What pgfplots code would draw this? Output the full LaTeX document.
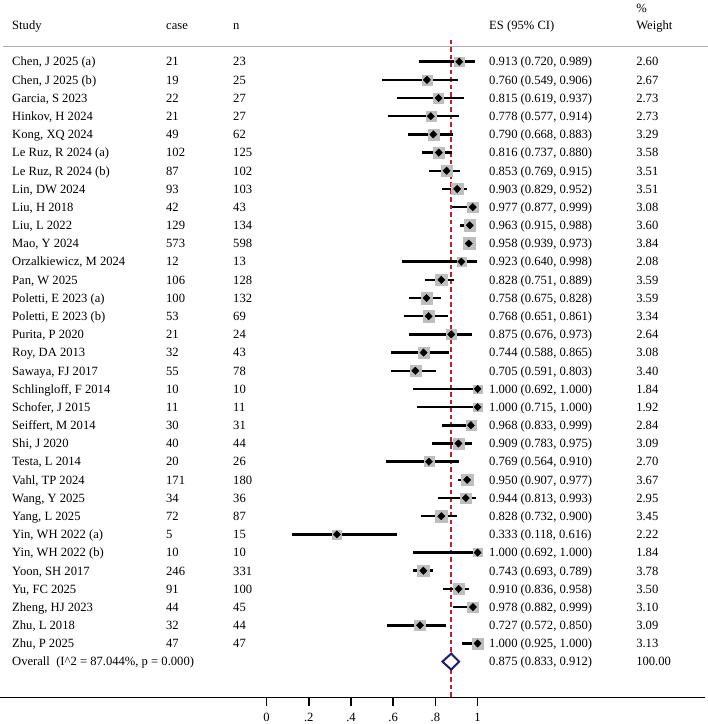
\documentclass[border=0pt]{standalone}
\usepackage{pgfplots}
\pgfplotsset{compat=1.18}
\usepackage{pgfplotstable}
\usepackage{fontspec}
\setmainfont{Liberation Serif}

\newcommand{\fs}{\fontsize{12.6bp}{14bp}\selectfont}

\definecolor{boxgray}{RGB}{190,190,190}
\definecolor{refred}{RGB}{185,35,45}
\definecolor{pooled}{RGB}{28,28,120}
\definecolor{rulegray}{RGB}{175,175,175}

% one row per study: proportion, 95% CI and random-effects weight
\pgfplotstableread[col sep=semicolon]{
row;study;case;n;es;lo;hi;w
1;Chen, J 2025 (a);21;23;0.913;0.720;0.989;2.60
2;Chen, J 2025 (b);19;25;0.760;0.549;0.906;2.67
3;Garcia, S 2023;22;27;0.815;0.619;0.937;2.73
4;Hinkov, H 2024;21;27;0.778;0.577;0.914;2.73
5;Kong, XQ 2024;49;62;0.790;0.668;0.883;3.29
6;Le Ruz, R 2024 (a);102;125;0.816;0.737;0.880;3.58
7;Le Ruz, R 2024 (b);87;102;0.853;0.769;0.915;3.51
8;Lin, DW 2024;93;103;0.903;0.829;0.952;3.51
9;Liu, H 2018;42;43;0.977;0.877;0.999;3.08
10;Liu, L 2022;129;134;0.963;0.915;0.988;3.60
11;Mao, Y 2024;573;598;0.958;0.939;0.973;3.84
12;Orzalkiewicz, M 2024;12;13;0.923;0.640;0.998;2.08
13;Pan, W 2025;106;128;0.828;0.751;0.889;3.59
14;Poletti, E 2023 (a);100;132;0.758;0.675;0.828;3.59
15;Poletti, E 2023 (b);53;69;0.768;0.651;0.861;3.34
16;Purita, P 2020;21;24;0.875;0.676;0.973;2.64
17;Roy, DA 2013;32;43;0.744;0.588;0.865;3.08
18;Sawaya, FJ 2017;55;78;0.705;0.591;0.803;3.40
19;Schlingloff, F 2014;10;10;1.000;0.692;1.000;1.84
20;Schofer, J 2015;11;11;1.000;0.715;1.000;1.92
21;Seiffert, M 2014;30;31;0.968;0.833;0.999;2.84
22;Shi, J 2020;40;44;0.909;0.783;0.975;3.09
23;Testa, L 2014;20;26;0.769;0.564;0.910;2.70
24;Vahl, TP 2024;171;180;0.950;0.907;0.977;3.67
25;Wang, Y 2025;34;36;0.944;0.813;0.993;2.95
26;Yang, L 2025;72;87;0.828;0.732;0.900;3.45
27;Yin, WH 2022 (a);5;15;0.333;0.118;0.616;2.22
28;Yin, WH 2022 (b);10;10;1.000;0.692;1.000;1.84
29;Yoon, SH 2017;246;331;0.743;0.693;0.789;3.78
30;Yu, FC 2025;91;100;0.910;0.836;0.958;3.50
31;Zheng, HJ 2023;44;45;0.978;0.882;0.999;3.10
32;Zhu, L 2018;32;44;0.727;0.572;0.850;3.09
33;Zhu, P 2025;47;47;1.000;0.925;1.000;3.13
}\studies

% pooled estimate
\pgfplotstableread[col sep=semicolon]{
row;study;es;lo;hi;w
34;Overall\ \ (I\textasciicircum 2 = 87.044\%, p = 0.000);0.875;0.833;0.912;100.00
}\pooledrow

% scale tick labels
\pgfplotstableread[col sep=semicolon]{
t;lab
0;0
0.2;.2
0.4;.4
0.6;.6
0.8;.8
1;1
}\scaleticks

\newcommand{\ci}[1]{\pgfmathprintnumber[fixed, fixed zerofill, precision=3, assume math mode=true]{#1}}

\begin{document}
\begin{tikzpicture}
\begin{axis}[
  name=ax,
  scale only axis,
  width=708bp, height=697.3bp,
  xmin=-1.2635, xmax=2.0919,
  ymin=-35.962, ymax=2.394,
  hide axis,
  clip=false,
  unbounded coords=jump,
  textcol/.style={only marks, mark=none, nodes near coords,
    point meta=explicit symbolic,
    every node near coord/.append style={anchor=base west, yshift=-4.3bp,
      inner sep=0pt, font=\fs, text=black}},
  cicol/.style={textcol,
    visualization depends on={\thisrow{lo} \as \cilo},
    visualization depends on={\thisrow{hi} \as \cihi},
    nodes near coords={\pgfplotspointmeta\ (\ci{\cilo}, \ci{\cihi})}},
]

% rule under the column headings
\addplot[color=rulegray, line width=1.2bp] coordinates {(-1.25,-0.175) (2.0919,-0.175)};

% pooled-estimate reference line
\addplot[color=refred, line width=1.5bp, dash pattern=on 4.5bp off 3bp]
  coordinates {(0.875,0.194) (0.875,-35.962)};

% weight boxes (area proportional to weight)
\addplot[scatter, only marks, mark=square*,
  visualization depends on={\thisrow{w} \as \wt},
  scatter/@pre marker code/.code={%
    \pgfmathsetmacro{\boxr}{3.06*sqrt(\wt)}%
    \scope[mark size=\boxr pt, draw=boxgray, fill=boxgray]},
  scatter/@post marker code/.code={\endscope}]
  table[x=es, y expr=-\thisrow{row}]{\studies};

% confidence intervals
\addplot[only marks, mark=none,
  error bars/.cd, x dir=both, x explicit, error mark=none,
  error bar style={line width=2.5bp, black}]
  table[x=es, y expr=-\thisrow{row},
        x error plus expr=\thisrow{hi}-\thisrow{es},
        x error minus expr=\thisrow{es}-\thisrow{lo}]{\studies};

% point estimates
\addplot[only marks, mark=diamond*, mark size=3.7bp,
  mark options={xscale=1.3, black, fill=black}]
  table[x=es, y expr=-\thisrow{row}]{\studies};

% pooled diamond
\addplot[color=pooled, line width=2bp, fill=white]
  coordinates {(0.833,-34) (0.875,-33.56) (0.912,-34) (0.875,-34.44) (0.833,-34)} -- cycle;

% text columns
\addplot[textcol] table[x expr=-1.2066, y expr=-\thisrow{row}, meta=study]{\studies};
\addplot[textcol] table[x expr=-0.4768, y expr=-\thisrow{row}, meta=case]{\studies};
\addplot[textcol] table[x expr=-0.1592, y expr=-\thisrow{row}, meta=n]{\studies};
\addplot[cicol] table[x expr=1.054, y expr=-\thisrow{row}, meta=es]{\studies};
\addplot[textcol] table[x expr=1.751, y expr=-\thisrow{row}, meta=w]{\studies};

\addplot[textcol] table[x expr=-1.2066, y expr=-\thisrow{row}, meta=study]{\pooledrow};
\addplot[cicol] table[x expr=1.054, y expr=-\thisrow{row}, meta=es]{\pooledrow};
\addplot[textcol] table[x expr=1.751, y expr=-\thisrow{row}, meta=w]{\pooledrow};

% scale: baseline, ticks and tick labels
\addplot[color=black, line width=1.6bp] coordinates {(-1.2635,-35.962) (2.0777,-35.962)};
\addplot[color=black, line width=1.6bp, mark=none] coordinates {
  (0,-35.962) (0,-36.42) (nan,nan)
  (0.2,-35.962) (0.2,-36.42) (nan,nan)
  (0.4,-35.962) (0.4,-36.42) (nan,nan)
  (0.6,-35.962) (0.6,-36.42) (nan,nan)
  (0.8,-35.962) (0.8,-36.42) (nan,nan)
  (1,-35.962) (1,-36.42)
};
\addplot[only marks, mark=none, nodes near coords, point meta=explicit symbolic,
  every node near coord/.append style={anchor=base, yshift=-4.3bp,
    inner sep=0pt, font=\fs, text=black}]
  table[x=t, y expr=-37.04, meta=lab]{\scaleticks};

% column headings
\begin{scope}[every node/.style={anchor=base west, yshift=-4.3bp, inner sep=0pt, font=\fs}]
\node at (axis cs:-1.2066,1.019) {Study};
\node at (axis cs:-0.4768,1.019) {case};
\node at (axis cs:-0.1592,1.019) {n};
\node at (axis cs:1.054,1.019) {ES (95\% CI)};
\node at (axis cs:1.751,1.954) {\%};
\node at (axis cs:1.751,1.019) {Weight};
\end{scope}
\end{axis}
\pgfresetboundingbox
\path[use as bounding box] (ax.south west) ++(0,-26.7bp) rectangle (ax.north east);
\end{tikzpicture}
\end{document}
